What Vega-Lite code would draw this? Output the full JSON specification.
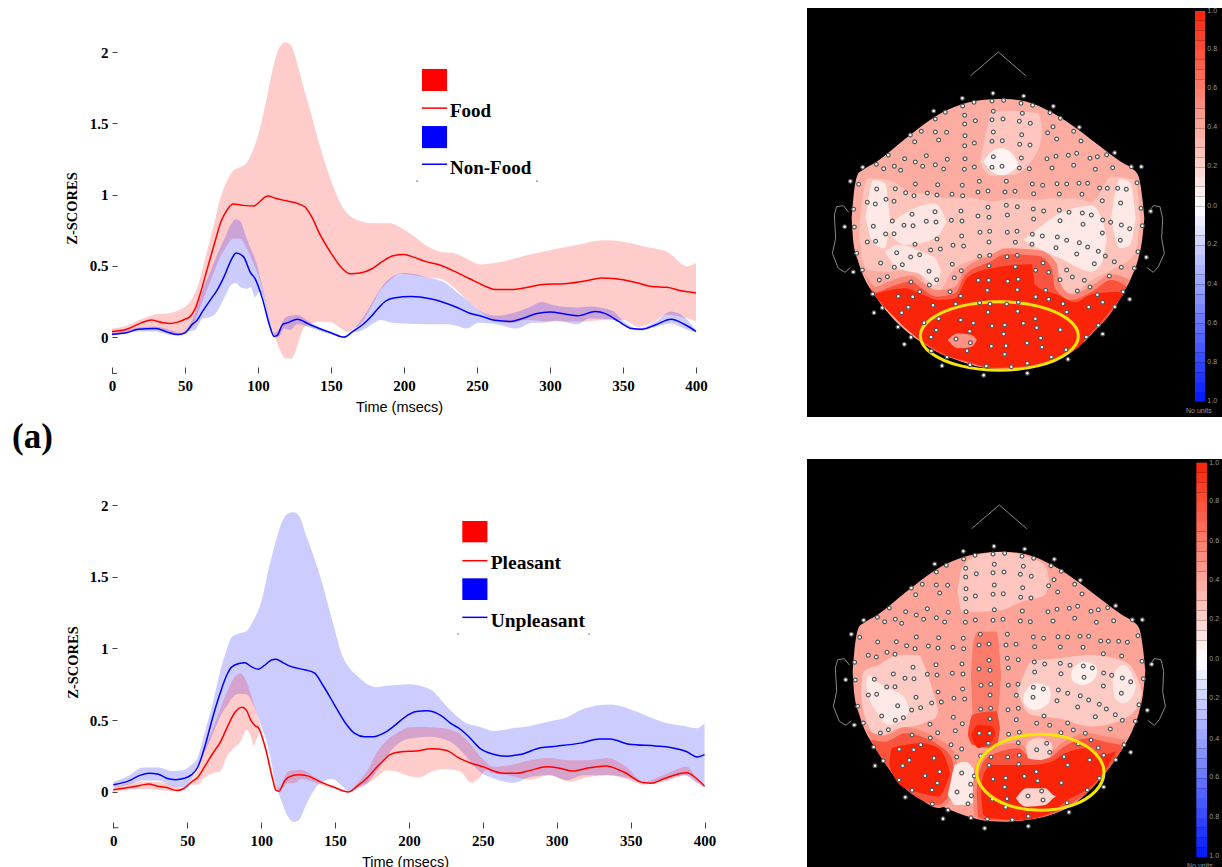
{"$schema":"https://vega.github.io/schema/vega-lite/v6.json","background":"white","padding":{"left":11,"top":7,"right":0,"bottom":0},"autosize":{"type":"pad"},"bounds":"flush","columns":2,"spacing":{"row":42,"column":102},"resolve":{"scale":{"color":"independent"}},
"config":{"view":{"stroke":null},"axis":{"grid":false,"domain":false,"tickColor":"#444","labelFlush":false,"labelFont":"Liberation Serif","labelFontWeight":"bold","labelFontSize":15,"labelColor":"#000"}},
"datasets":{
"el":[{"x":472,"y":280},{"x":564,"y":265},{"x":656,"y":273},{"x":745,"y":304},{"x":386,"y":318},{"x":823,"y":367},{"x":316,"y":390},{"x":929,"y":443},{"x":173,"y":487},{"x":979,"y":485},{"x":1009,"y":485},{"x":136,"y":529},{"x":119,"y":665},{"x":145,"y":801},{"x":207,"y":923},{"x":298,"y":1018},{"x":411,"y":1082},{"x":536,"y":1111},{"x":667,"y":1105},{"x":789,"y":1063},{"x":893,"y":987},{"x":974,"y":883},{"x":1024,"y":757},{"x":1037,"y":619},{"x":473,"y":303},{"x":507,"y":292},{"x":561,"y":288},{"x":596,"y":286},{"x":648,"y":295},{"x":683,"y":301},{"x":421,"y":322},{"x":479,"y":331},{"x":565,"y":319},{"x":652,"y":325},{"x":735,"y":323},{"x":391,"y":342},{"x":766,"y":340},{"x":479,"y":357},{"x":511,"y":347},{"x":561,"y":344},{"x":594,"y":342},{"x":643,"y":349},{"x":676,"y":355},{"x":349,"y":379},{"x":391,"y":381},{"x":425,"y":382},{"x":480,"y":392},{"x":565,"y":381},{"x":650,"y":389},{"x":728,"y":383},{"x":744,"y":365},{"x":806,"y":379},{"x":329,"y":410},{"x":401,"y":405},{"x":479,"y":422},{"x":508,"y":414},{"x":561,"y":409},{"x":592,"y":407},{"x":644,"y":418},{"x":675,"y":420},{"x":755,"y":402},{"x":828,"y":408},{"x":250,"y":450},{"x":299,"y":461},{"x":331,"y":471},{"x":364,"y":452},{"x":391,"y":479},{"x":427,"y":463},{"x":480,"y":461},{"x":565,"y":455},{"x":649,"y":459},{"x":726,"y":461},{"x":753,"y":454},{"x":790,"y":451},{"x":815,"y":445},{"x":855,"y":460},{"x":877,"y":455},{"x":905,"y":449},{"x":214,"y":478},{"x":236,"y":491},{"x":268,"y":484},{"x":287,"y":496},{"x":353,"y":484},{"x":416,"y":492},{"x":478,"y":493},{"x":508,"y":486},{"x":561,"y":487},{"x":591,"y":484},{"x":643,"y":489},{"x":673,"y":491},{"x":741,"y":489},{"x":806,"y":481},{"x":871,"y":493},{"x":923,"y":488},{"x":161,"y":538},{"x":331,"y":537},{"x":398,"y":539},{"x":472,"y":541},{"x":523,"y":529},{"x":604,"y":529},{"x":682,"y":537},{"x":713,"y":541},{"x":756,"y":536},{"x":785,"y":537},{"x":822,"y":535},{"x":848,"y":535},{"x":884,"y":549},{"x":907,"y":550},{"x":938,"y":550},{"x":964,"y":553},{"x":996,"y":533},{"x":215,"y":552},{"x":271,"y":551},{"x":302,"y":563},{"x":327,"y":572},{"x":367,"y":564},{"x":396,"y":570},{"x":441,"y":568},{"x":473,"y":572},{"x":519,"y":561},{"x":549,"y":558},{"x":600,"y":561},{"x":630,"y":559},{"x":686,"y":566},{"x":763,"y":567},{"x":831,"y":568},{"x":187,"y":592},{"x":211,"y":597},{"x":243,"y":583},{"x":267,"y":589},{"x":468,"y":618},{"x":549,"y":607},{"x":604,"y":601},{"x":637,"y":605},{"x":892,"y":587},{"x":947,"y":594},{"x":1008,"y":610},{"x":146,"y":613},{"x":321,"y":628},{"x":390,"y":620},{"x":519,"y":633},{"x":552,"y":637},{"x":607,"y":630},{"x":685,"y":612},{"x":716,"y":618},{"x":763,"y":616},{"x":792,"y":622},{"x":832,"y":624},{"x":859,"y":630},{"x":262,"y":648},{"x":297,"y":661},{"x":324,"y":662},{"x":364,"y":649},{"x":393,"y":651},{"x":439,"y":646},{"x":471,"y":648},{"x":686,"y":642},{"x":765,"y":647},{"x":893,"y":645},{"x":917,"y":652},{"x":834,"y":658},{"x":949,"y":660},{"x":974,"y":671},{"x":1012,"y":662},{"x":148,"y":666},{"x":205,"y":664},{"x":242,"y":687},{"x":267,"y":686},{"x":396,"y":702},{"x":470,"y":693},{"x":525,"y":682},{"x":554,"y":679},{"x":607,"y":682},{"x":636,"y":679},{"x":682,"y":688},{"x":712,"y":693},{"x":757,"y":696},{"x":892,"y":684},{"x":187,"y":711},{"x":212,"y":709},{"x":330,"y":718},{"x":444,"y":721},{"x":476,"y":723},{"x":552,"y":711},{"x":631,"y":712},{"x":681,"y":718},{"x":785,"y":706},{"x":823,"y":713},{"x":848,"y":726},{"x":753,"y":728},{"x":946,"y":706},{"x":155,"y":745},{"x":275,"y":743},{"x":317,"y":756},{"x":344,"y":749},{"x":377,"y":735},{"x":406,"y":732},{"x":524,"y":754},{"x":554,"y":751},{"x":606,"y":755},{"x":637,"y":751},{"x":815,"y":747},{"x":880,"y":739},{"x":901,"y":753},{"x":999,"y":740},{"x":227,"y":774},{"x":268,"y":787},{"x":292,"y":779},{"x":442,"y":778},{"x":469,"y":797},{"x":552,"y":782},{"x":631,"y":785},{"x":714,"y":774},{"x":692,"y":796},{"x":731,"y":802},{"x":785,"y":795},{"x":868,"y":776},{"x":928,"y":770},{"x":949,"y":787},{"x":988,"y":790},{"x":172,"y":795},{"x":372,"y":799},{"x":223,"y":825},{"x":247,"y":815},{"x":318,"y":831},{"x":395,"y":824},{"x":373,"y":840},{"x":448,"y":818},{"x":520,"y":826},{"x":551,"y":826},{"x":608,"y":829},{"x":640,"y":823},{"x":765,"y":824},{"x":802,"y":816},{"x":838,"y":826},{"x":913,"y":813},{"x":203,"y":867},{"x":280,"y":874},{"x":323,"y":875},{"x":344,"y":860},{"x":435,"y":860},{"x":467,"y":873},{"x":547,"y":856},{"x":637,"y":854},{"x":722,"y":856},{"x":692,"y":875},{"x":731,"y":883},{"x":817,"y":858},{"x":855,"y":846},{"x":877,"y":869},{"x":954,"y":860},{"x":232,"y":908},{"x":310,"y":907},{"x":290,"y":923},{"x":384,"y":901},{"x":452,"y":897},{"x":524,"y":893},{"x":555,"y":897},{"x":605,"y":897},{"x":640,"y":892},{"x":774,"y":896},{"x":785,"y":921},{"x":851,"y":906},{"x":893,"y":892},{"x":929,"y":905},{"x":401,"y":941},{"x":357,"y":953},{"x":467,"y":945},{"x":505,"y":954},{"x":549,"y":922},{"x":638,"y":919},{"x":691,"y":941},{"x":655,"y":955},{"x":561,"y":963},{"x":599,"y":960},{"x":880,"y":961},{"x":279,"y":966},{"x":394,"y":975},{"x":494,"y":979},{"x":695,"y":968},{"x":766,"y":974},{"x":596,"y":987},{"x":378,"y":996},{"x":318,"y":997},{"x":453,"y":1002},{"x":707,"y":999},{"x":844,"y":996},{"x":496,"y":1013},{"x":486,"y":1037},{"x":559,"y":1024},{"x":603,"y":1022},{"x":666,"y":1014},{"x":711,"y":1026},{"x":783,"y":1034},{"x":379,"y":1038},{"x":599,"y":1048},{"x":739,"y":1056},{"x":426,"y":1056},{"x":495,"y":1079},{"x":544,"y":1083},{"x":619,"y":1085},{"x":667,"y":1075}],
"outline":[{"k":"chin","o":0,"x":497,"y":212},{"k":"chin","o":1,"x":580,"y":141},{"k":"chin","o":2,"x":662,"y":212},{"k":"earL","o":0,"x":131,"y":622},{"k":"earL","o":1,"x":115,"y":602},{"k":"earL","o":2,"x":95,"y":605},{"k":"earL","o":3,"x":88,"y":630},{"k":"earL","o":4,"x":92,"y":700},{"k":"earL","o":5,"x":82,"y":745},{"k":"earL","o":6,"x":100,"y":790},{"k":"earL","o":7,"x":120,"y":802},{"k":"earL","o":8,"x":136,"y":788},{"k":"earR","o":0,"x":1030,"y":622},{"k":"earR","o":1,"x":1045,"y":602},{"k":"earR","o":2,"x":1065,"y":605},{"k":"earR","o":3,"x":1073,"y":640},{"k":"earR","o":4,"x":1070,"y":700},{"k":"earR","o":5,"x":1078,"y":745},{"k":"earR","o":6,"x":1060,"y":785},{"k":"earR","o":7,"x":1045,"y":802},{"k":"earR","o":8,"x":1025,"y":787}],
"regionsTop":[
{"r":"a","v":0.38,"x":140,"y":640,"y2":640},{"r":"a","v":0.38,"x":145,"y":580,"y2":710},{"r":"a","v":0.38,"x":160,"y":505,"y2":770},{"r":"a","v":0.38,"x":170,"y":497,"y2":800},{"r":"a","v":0.38,"x":215,"y":470,"y2":878},{"r":"a","v":0.38,"x":300,"y":402,"y2":975},{"r":"a","v":0.38,"x":390,"y":335,"y2":1035},{"r":"a","v":0.38,"x":470,"y":298,"y2":1070},{"r":"a","v":0.38,"x":560,"y":283,"y2":1090},{"r":"a","v":0.38,"x":600,"y":282,"y2":1091},{"r":"a","v":0.38,"x":640,"y":285,"y2":1088},{"r":"a","v":0.38,"x":680,"y":295,"y2":1083},{"r":"a","v":0.38,"x":720,"y":312,"y2":1075},{"r":"a","v":0.38,"x":770,"y":340,"y2":1057},{"r":"a","v":0.38,"x":800,"y":360,"y2":1040},{"r":"a","v":0.38,"x":880,"y":420,"y2":965},{"r":"a","v":0.38,"x":950,"y":472,"y2":870},{"r":"a","v":0.38,"x":980,"y":490,"y2":815},{"r":"a","v":0.38,"x":1000,"y":512,"y2":760},{"r":"a","v":0.38,"x":1012,"y":580,"y2":700},{"r":"a","v":0.38,"x":1018,"y":640,"y2":640},
{"r":"b","v":0.26,"x":525,"y":470,"y2":470},{"r":"b","v":0.26,"x":540,"y":400,"y2":500},{"r":"b","v":0.26,"x":560,"y":322,"y2":512},{"r":"b","v":0.26,"x":620,"y":318,"y2":510},{"r":"b","v":0.26,"x":700,"y":325,"y2":435},{"r":"b","v":0.26,"x":712,"y":380,"y2":380},
{"r":"c","v":0.27,"x":162,"y":680,"y2":680},{"r":"c","v":0.27,"x":175,"y":560,"y2":775},{"r":"c","v":0.27,"x":190,"y":520,"y2":795},{"r":"c","v":0.27,"x":250,"y":525,"y2":800},{"r":"c","v":0.27,"x":330,"y":565,"y2":790},{"r":"c","v":0.27,"x":370,"y":565,"y2":850},{"r":"c","v":0.27,"x":400,"y":575,"y2":860},{"r":"c","v":0.27,"x":440,"y":580,"y2":800},{"r":"c","v":0.27,"x":500,"y":580,"y2":765},{"r":"c","v":0.27,"x":560,"y":590,"y2":745},{"r":"c","v":0.27,"x":620,"y":580,"y2":735},{"r":"c","v":0.27,"x":700,"y":585,"y2":750},{"r":"c","v":0.27,"x":740,"y":580,"y2":820},{"r":"c","v":0.27,"x":800,"y":580,"y2":865},{"r":"c","v":0.27,"x":860,"y":590,"y2":825},{"r":"c","v":0.27,"x":920,"y":515,"y2":795},{"r":"c","v":0.27,"x":990,"y":525,"y2":745},{"r":"c","v":0.27,"x":1006,"y":640,"y2":640},
{"r":"d","v":0.1,"x":182,"y":640,"y2":640},{"r":"d","v":0.1,"x":205,"y":525,"y2":715},{"r":"d","v":0.1,"x":240,"y":535,"y2":730},{"r":"d","v":0.1,"x":255,"y":640,"y2":640},
{"r":"e","v":0.12,"x":240,"y":670,"y2":670},{"r":"e","v":0.12,"x":300,"y":625,"y2":720},{"r":"e","v":0.12,"x":390,"y":595,"y2":700},{"r":"e","v":0.12,"x":425,"y":650,"y2":650},
{"r":"f","v":0.12,"x":240,"y":740,"y2":740},{"r":"f","v":0.12,"x":280,"y":720,"y2":790},{"r":"f","v":0.12,"x":350,"y":740,"y2":810},{"r":"f","v":0.12,"x":390,"y":760,"y2":840},{"r":"f","v":0.12,"x":408,"y":800,"y2":800},
{"r":"g","v":0.1,"x":655,"y":705,"y2":705},{"r":"g","v":0.1,"x":710,"y":662,"y2":735},{"r":"g","v":0.1,"x":770,"y":622,"y2":762},{"r":"g","v":0.1,"x":860,"y":602,"y2":800},{"r":"g","v":0.1,"x":890,"y":640,"y2":775},{"r":"g","v":0.1,"x":905,"y":700,"y2":700},
{"r":"h","v":0.1,"x":918,"y":640,"y2":640},{"r":"h","v":0.1,"x":945,"y":522,"y2":730},{"r":"h","v":0.1,"x":975,"y":532,"y2":720},{"r":"h","v":0.1,"x":992,"y":640,"y2":640},
{"r":"i","v":0.05,"x":535,"y":470,"y2":470},{"r":"i","v":0.05,"x":560,"y":440,"y2":500},{"r":"i","v":0.05,"x":590,"y":430,"y2":510},{"r":"i","v":0.05,"x":620,"y":445,"y2":500},{"r":"i","v":0.05,"x":642,"y":480,"y2":480},
{"r":"i2","v":0.55,"x":175,"y":800,"y2":800},{"r":"i2","v":0.55,"x":215,"y":845,"y2":878},{"r":"i2","v":0.55,"x":245,"y":832,"y2":910},{"r":"i2","v":0.55,"x":320,"y":812,"y2":985},{"r":"i2","v":0.55,"x":350,"y":830,"y2":1010},{"r":"i2","v":0.55,"x":395,"y":855,"y2":1040},{"r":"i2","v":0.55,"x":450,"y":845,"y2":1062},{"r":"i2","v":0.55,"x":480,"y":790,"y2":1070},{"r":"i2","v":0.55,"x":560,"y":750,"y2":1090},{"r":"i2","v":0.55,"x":600,"y":730,"y2":1091},{"r":"i2","v":0.55,"x":700,"y":735,"y2":1083},{"r":"i2","v":0.55,"x":755,"y":775,"y2":1058},{"r":"i2","v":0.55,"x":765,"y":835,"y2":1052},{"r":"i2","v":0.55,"x":800,"y":868,"y2":1040},{"r":"i2","v":0.55,"x":860,"y":842,"y2":985},{"r":"i2","v":0.55,"x":920,"y":808,"y2":920},{"r":"i2","v":0.55,"x":975,"y":825,"y2":825},
{"r":"j","v":0.78,"x":185,"y":835,"y2":835},{"r":"j","v":0.78,"x":215,"y":862,"y2":878},{"r":"j","v":0.78,"x":245,"y":850,"y2":910},{"r":"j","v":0.78,"x":320,"y":830,"y2":985},{"r":"j","v":0.78,"x":350,"y":850,"y2":1010},{"r":"j","v":0.78,"x":395,"y":875,"y2":1040},{"r":"j","v":0.78,"x":450,"y":865,"y2":1062},{"r":"j","v":0.78,"x":480,"y":810,"y2":1070},{"r":"j","v":0.78,"x":560,"y":768,"y2":1090},{"r":"j","v":0.78,"x":600,"y":748,"y2":1091},{"r":"j","v":0.78,"x":700,"y":752,"y2":1083},{"r":"j","v":0.78,"x":740,"y":790,"y2":1065},{"r":"j","v":0.78,"x":750,"y":850,"y2":1058},{"r":"j","v":0.78,"x":800,"y":885,"y2":1040},{"r":"j","v":0.78,"x":860,"y":860,"y2":985},{"r":"j","v":0.78,"x":920,"y":825,"y2":920},{"r":"j","v":0.78,"x":965,"y":845,"y2":845},
{"r":"k","v":1,"x":205,"y":868,"y2":868},{"r":"k","v":1,"x":300,"y":850,"y2":968},{"r":"k","v":1,"x":350,"y":868,"y2":1008},{"r":"k","v":1,"x":400,"y":885,"y2":1038},{"r":"k","v":1,"x":450,"y":880,"y2":1060},{"r":"k","v":1,"x":490,"y":815,"y2":1070},{"r":"k","v":1,"x":560,"y":790,"y2":1088},{"r":"k","v":1,"x":680,"y":778,"y2":1082},{"r":"k","v":1,"x":690,"y":840,"y2":1080},{"r":"k","v":1,"x":760,"y":870,"y2":1058},{"r":"k","v":1,"x":810,"y":892,"y2":1035},{"r":"k","v":1,"x":860,"y":868,"y2":982},{"r":"k","v":1,"x":940,"y":860,"y2":888},{"r":"k","v":1,"x":955,"y":870,"y2":870},
{"r":"l","v":0.5,"x":428,"y":1005,"y2":1005},{"r":"l","v":0.5,"x":460,"y":985,"y2":1030},{"r":"l","v":0.5,"x":500,"y":990,"y2":1025},{"r":"l","v":0.5,"x":516,"y":1005,"y2":1005}],
"regionsBottom":[
{"r":"a","v":0.42,"x":140,"y":640,"y2":640},{"r":"a","v":0.42,"x":145,"y":580,"y2":710},{"r":"a","v":0.42,"x":160,"y":505,"y2":770},{"r":"a","v":0.42,"x":170,"y":497,"y2":800},{"r":"a","v":0.42,"x":215,"y":470,"y2":878},{"r":"a","v":0.42,"x":300,"y":402,"y2":975},{"r":"a","v":0.42,"x":390,"y":335,"y2":1035},{"r":"a","v":0.42,"x":470,"y":298,"y2":1070},{"r":"a","v":0.42,"x":560,"y":283,"y2":1090},{"r":"a","v":0.42,"x":600,"y":282,"y2":1091},{"r":"a","v":0.42,"x":640,"y":285,"y2":1088},{"r":"a","v":0.42,"x":680,"y":295,"y2":1083},{"r":"a","v":0.42,"x":720,"y":312,"y2":1075},{"r":"a","v":0.42,"x":770,"y":340,"y2":1057},{"r":"a","v":0.42,"x":800,"y":360,"y2":1040},{"r":"a","v":0.42,"x":880,"y":420,"y2":965},{"r":"a","v":0.42,"x":950,"y":472,"y2":870},{"r":"a","v":0.42,"x":980,"y":490,"y2":815},{"r":"a","v":0.42,"x":1000,"y":512,"y2":760},{"r":"a","v":0.42,"x":1012,"y":580,"y2":700},{"r":"a","v":0.42,"x":1018,"y":640,"y2":640},
{"r":"b","v":0.26,"x":455,"y":400,"y2":400},{"r":"b","v":0.26,"x":467,"y":331,"y2":461},{"r":"b","v":0.26,"x":517,"y":291,"y2":461},{"r":"b","v":0.26,"x":587,"y":281,"y2":456},{"r":"b","v":0.26,"x":647,"y":291,"y2":431},{"r":"b","v":0.26,"x":717,"y":321,"y2":411},{"r":"b","v":0.26,"x":730,"y":370,"y2":370},
{"r":"c","v":0.24,"x":165,"y":700,"y2":700},{"r":"c","v":0.24,"x":172,"y":641,"y2":761},{"r":"c","v":0.24,"x":217,"y":621,"y2":836},{"r":"c","v":0.24,"x":277,"y":591,"y2":811},{"r":"c","v":0.24,"x":337,"y":591,"y2":801},{"r":"c","v":0.24,"x":362,"y":641,"y2":791},{"r":"c","v":0.24,"x":387,"y":721,"y2":781},{"r":"c","v":0.24,"x":397,"y":760,"y2":760},
{"r":"d","v":0.1,"x":180,"y":680,"y2":680},{"r":"d","v":0.1,"x":187,"y":651,"y2":711},{"r":"d","v":0.1,"x":212,"y":671,"y2":761},{"r":"d","v":0.1,"x":247,"y":691,"y2":801},{"r":"d","v":0.1,"x":297,"y":721,"y2":781},{"r":"d","v":0.1,"x":310,"y":755,"y2":755},
{"r":"e","v":0.24,"x":635,"y":700,"y2":700},{"r":"e","v":0.24,"x":642,"y":681,"y2":721},{"r":"e","v":0.24,"x":677,"y":611,"y2":771},{"r":"e","v":0.24,"x":757,"y":601,"y2":781},{"r":"e","v":0.24,"x":857,"y":591,"y2":806},{"r":"e","v":0.24,"x":957,"y":611,"y2":781},{"r":"e","v":0.24,"x":1002,"y":681,"y2":731},{"r":"e","v":0.24,"x":1008,"y":705,"y2":705},
{"r":"f","v":0.07,"x":650,"y":720,"y2":720},{"r":"f","v":0.07,"x":657,"y":701,"y2":741},{"r":"f","v":0.07,"x":687,"y":676,"y2":756},{"r":"f","v":0.07,"x":727,"y":686,"y2":736},{"r":"f","v":0.07,"x":735,"y":710,"y2":710},
{"r":"g","v":0.07,"x":795,"y":650,"y2":650},{"r":"g","v":0.07,"x":802,"y":631,"y2":671},{"r":"g","v":0.07,"x":832,"y":611,"y2":681},{"r":"g","v":0.07,"x":867,"y":621,"y2":661},{"r":"g","v":0.07,"x":875,"y":640,"y2":640},
{"r":"h","v":0.1,"x":920,"y":680,"y2":680},{"r":"h","v":0.1,"x":927,"y":641,"y2":721},{"r":"h","v":0.1,"x":952,"y":621,"y2":736},{"r":"h","v":0.1,"x":982,"y":661,"y2":711},{"r":"h","v":0.1,"x":990,"y":685,"y2":685},
{"r":"i","v":0.6,"x":495,"y":650,"y2":650},{"r":"i","v":0.6,"x":502,"y":551,"y2":791},{"r":"i","v":0.6,"x":517,"y":521,"y2":811},{"r":"i","v":0.6,"x":572,"y":521,"y2":791},{"r":"i","v":0.6,"x":585,"y":650,"y2":650},
{"r":"j","v":0.85,"x":485,"y":830,"y2":830},{"r":"j","v":0.85,"x":500,"y":770,"y2":860},{"r":"j","v":0.85,"x":570,"y":760,"y2":870},{"r":"j","v":0.85,"x":582,"y":810,"y2":810},
{"r":"k","v":1,"x":495,"y":830,"y2":830},{"r":"k","v":1,"x":517,"y":800,"y2":870},{"r":"k","v":1,"x":557,"y":805,"y2":850},{"r":"k","v":1,"x":568,"y":825,"y2":825},
{"r":"k2","v":0.55,"x":180,"y":815,"y2":815},{"r":"k2","v":0.55,"x":237,"y":833,"y2":916},{"r":"k2","v":0.55,"x":297,"y":808,"y2":991},{"r":"k2","v":0.55,"x":347,"y":818,"y2":1026},{"r":"k2","v":0.55,"x":397,"y":843,"y2":1050},{"r":"k2","v":0.55,"x":445,"y":885,"y2":1010},{"r":"k2","v":0.55,"x":458,"y":945,"y2":945},
{"r":"l","v":0.78,"x":192,"y":846,"y2":846},{"r":"l","v":0.78,"x":237,"y":851,"y2":916},{"r":"l","v":0.78,"x":297,"y":826,"y2":991},{"r":"l","v":0.78,"x":347,"y":836,"y2":1026},{"r":"l","v":0.78,"x":397,"y":861,"y2":1041},{"r":"l","v":0.78,"x":437,"y":901,"y2":991},{"r":"l","v":0.78,"x":445,"y":945,"y2":945},
{"r":"m","v":1,"x":250,"y":920,"y2":920},{"r":"m","v":1,"x":257,"y":871,"y2":941},{"r":"m","v":1,"x":297,"y":861,"y2":991},{"r":"m","v":1,"x":347,"y":856,"y2":1006},{"r":"m","v":1,"x":397,"y":871,"y2":1016},{"r":"m","v":1,"x":422,"y":911,"y2":976},{"r":"m","v":1,"x":432,"y":945,"y2":945},
{"r":"n","v":0.1,"x":425,"y":1010,"y2":1010},{"r":"n","v":0.1,"x":432,"y":981,"y2":1021},{"r":"n","v":0.1,"x":447,"y":921,"y2":1041},{"r":"n","v":0.1,"x":477,"y":911,"y2":1041},{"r":"n","v":0.1,"x":507,"y":941,"y2":1031},{"r":"n","v":0.1,"x":520,"y":980,"y2":980},
{"r":"n2","v":0.55,"x":500,"y":1000,"y2":1000},{"r":"n2","v":0.55,"x":505,"y":935,"y2":1076},{"r":"n2","v":0.55,"x":537,"y":880,"y2":1086},{"r":"n2","v":0.55,"x":637,"y":855,"y2":1088},{"r":"n2","v":0.55,"x":677,"y":885,"y2":1083},{"r":"n2","v":0.55,"x":727,"y":885,"y2":1072},{"r":"n2","v":0.55,"x":767,"y":855,"y2":1055},{"r":"n2","v":0.55,"x":847,"y":825,"y2":1000},{"r":"n2","v":0.55,"x":897,"y":835,"y2":946},{"r":"n2","v":0.55,"x":957,"y":845,"y2":860},
{"r":"o","v":0.78,"x":512,"y":1000,"y2":1000},{"r":"o","v":0.78,"x":517,"y":951,"y2":1078},{"r":"o","v":0.78,"x":547,"y":896,"y2":1086},{"r":"o","v":0.78,"x":637,"y":871,"y2":1088},{"r":"o","v":0.78,"x":677,"y":901,"y2":1083},{"r":"o","v":0.78,"x":727,"y":901,"y2":1072},{"r":"o","v":0.78,"x":767,"y":871,"y2":1055},{"r":"o","v":0.78,"x":847,"y":841,"y2":1000},{"r":"o","v":0.78,"x":897,"y":851,"y2":946},{"r":"o","v":0.78,"x":947,"y":861,"y2":876},
{"r":"p","v":1,"x":525,"y":1000,"y2":1000},{"r":"p","v":1,"x":532,"y":951,"y2":1071},{"r":"p","v":1,"x":557,"y":921,"y2":1081},{"r":"p","v":1,"x":637,"y":921,"y2":1086},{"r":"p","v":1,"x":677,"y":921,"y2":1082},{"r":"p","v":1,"x":737,"y":911,"y2":1062},{"r":"p","v":1,"x":777,"y":886,"y2":1031},{"r":"p","v":1,"x":847,"y":871,"y2":991},{"r":"p","v":1,"x":887,"y":891,"y2":951},{"r":"p","v":1,"x":930,"y":880,"y2":880},
{"r":"q","v":0.2,"x":660,"y":870,"y2":870},{"r":"q","v":0.2,"x":667,"y":851,"y2":901},{"r":"q","v":0.2,"x":697,"y":841,"y2":906},{"r":"q","v":0.2,"x":732,"y":851,"y2":896},{"r":"q","v":0.2,"x":740,"y":870,"y2":870},
{"r":"s","v":0.2,"x":630,"y":1020,"y2":1020},{"r":"s","v":0.2,"x":637,"y":1011,"y2":1031},{"r":"s","v":0.2,"x":662,"y":991,"y2":1046},{"r":"s","v":0.2,"x":717,"y":991,"y2":1041},{"r":"s","v":0.2,"x":742,"y":1011,"y2":1021},{"r":"s","v":0.2,"x":750,"y":1015,"y2":1015}]
},
"concat":[
{"width":584,"height":359,"data":{"values":[]},
"encoding":{"x":{"field":"x","type":"quantitative","scale":{"domain":[0,400],"nice":false,"zero":false},"axis":{"values":[0,50,100,150,200,250,300,350,400],"format":"d","tickSize":6,"labelPadding":5,"title":"Time (msecs)","titleFont":"Liberation Sans","titleFontWeight":"normal","titleFontSize":14.5,"titleX":287,"titleY":33}},"y":{"field":"y","type":"quantitative","scale":{"domain":[-0.21,2.311],"nice":false,"zero":false},"axis":{"values":[0,0.5,1,1.5,2],"format":"~g","tickSize":-5,"labelPadding":9,"title":"Z-SCORES","titleFont":"Liberation Serif","titleFontWeight":"bold","titleFontSize":14.5,"titleX":-33,"titleY":200}}},
"layer":[
{"data":{"values":[{"s":"Food","x":0,"y":0.02,"y2":0.06},{"s":"Food","x":10,"y":0.03,"y2":0.08},{"s":"Food","x":20,"y":0.055,"y2":0.125},{"s":"Food","x":30,"y":0.06,"y2":0.16},{"s":"Food","x":40,"y":0.02,"y2":0.17},{"s":"Food","x":47,"y":0.015,"y2":0.195},{"s":"Food","x":52,"y":0.04,"y2":0.23},{"s":"Food","x":56,"y":0.09,"y2":0.29},{"s":"Food","x":60,"y":0.2,"y2":0.4},{"s":"Food","x":65,"y":0.33,"y2":0.6},{"s":"Food","x":70,"y":0.46,"y2":0.8},{"s":"Food","x":74,"y":0.56,"y2":0.97},{"s":"Food","x":78,"y":0.63,"y2":1.08},{"s":"Food","x":83,"y":0.69,"y2":1.17},{"s":"Food","x":88,"y":0.69,"y2":1.195},{"s":"Food","x":92,"y":0.63,"y2":1.22},{"s":"Food","x":96,"y":0.54,"y2":1.3},{"s":"Food","x":101,"y":0.41,"y2":1.45},{"s":"Food","x":106,"y":0.21,"y2":1.68},{"s":"Food","x":111,"y":0.02,"y2":1.92},{"s":"Food","x":115,"y":-0.09,"y2":2.04},{"s":"Food","x":119,"y":-0.15,"y2":2.07},{"s":"Food","x":123,"y":-0.15,"y2":2.04},{"s":"Food","x":128,"y":-0.03,"y2":1.88},{"s":"Food","x":131,"y":0.06,"y2":1.76},{"s":"Food","x":135,"y":0.09,"y2":1.62},{"s":"Food","x":143,"y":0.11,"y2":1.32},{"s":"Food","x":150,"y":0.105,"y2":1.1},{"s":"Food","x":157,"y":0.06,"y2":0.93},{"s":"Food","x":161,"y":0.035,"y2":0.87},{"s":"Food","x":165.5,"y":0.06,"y2":0.835},{"s":"Food","x":170,"y":0.09,"y2":0.815},{"s":"Food","x":177,"y":0.2,"y2":0.8},{"s":"Food","x":184,"y":0.33,"y2":0.8},{"s":"Food","x":190.6,"y":0.4,"y2":0.8},{"s":"Food","x":197.5,"y":0.445,"y2":0.77},{"s":"Food","x":206.6,"y":0.434,"y2":0.71},{"s":"Food","x":215.7,"y":0.42,"y2":0.64},{"s":"Food","x":225,"y":0.41,"y2":0.6},{"s":"Food","x":234,"y":0.35,"y2":0.59},{"s":"Food","x":243,"y":0.26,"y2":0.55},{"s":"Food","x":252.6,"y":0.176,"y2":0.51},{"s":"Food","x":262,"y":0.118,"y2":0.52},{"s":"Food","x":273,"y":0.098,"y2":0.545},{"s":"Food","x":284,"y":0.12,"y2":0.575},{"s":"Food","x":300,"y":0.11,"y2":0.61},{"s":"Food","x":320,"y":0.11,"y2":0.65},{"s":"Food","x":336,"y":0.118,"y2":0.68},{"s":"Food","x":350,"y":0.12,"y2":0.67},{"s":"Food","x":361,"y":0.07,"y2":0.645},{"s":"Food","x":370,"y":0.1,"y2":0.625},{"s":"Food","x":380,"y":0.157,"y2":0.6},{"s":"Food","x":394,"y":0.13,"y2":0.497},{"s":"Food","x":400,"y":0.11,"y2":0.52},
{"s":"Non-Food","x":0,"y":0.01,"y2":0.03},{"s":"Non-Food","x":20,"y":0.04,"y2":0.07},{"s":"Non-Food","x":30,"y":0.04,"y2":0.075},{"s":"Non-Food","x":40,"y":0.015,"y2":0.05},{"s":"Non-Food","x":47,"y":0.01,"y2":0.03},{"s":"Non-Food","x":52,"y":0.04,"y2":0.07},{"s":"Non-Food","x":57,"y":0.05,"y2":0.17},{"s":"Non-Food","x":62,"y":0.13,"y2":0.33},{"s":"Non-Food","x":67,"y":0.14,"y2":0.45},{"s":"Non-Food","x":72,"y":0.18,"y2":0.58},{"s":"Non-Food","x":77,"y":0.28,"y2":0.69},{"s":"Non-Food","x":82,"y":0.37,"y2":0.8},{"s":"Non-Food","x":85,"y":0.38,"y2":0.825},{"s":"Non-Food","x":88,"y":0.35,"y2":0.81},{"s":"Non-Food","x":92,"y":0.34,"y2":0.7},{"s":"Non-Food","x":95,"y":0.35,"y2":0.62},{"s":"Non-Food","x":98,"y":0.28,"y2":0.55},{"s":"Non-Food","x":101,"y":0.32,"y2":0.44},{"s":"Non-Food","x":104,"y":0.26,"y2":0.31},{"s":"Non-Food","x":108,"y":0.07,"y2":0.13},{"s":"Non-Food","x":111,"y":0,"y2":0.03},{"s":"Non-Food","x":114,"y":0,"y2":0.05},{"s":"Non-Food","x":118,"y":0.06,"y2":0.13},{"s":"Non-Food","x":122,"y":0.05,"y2":0.15},{"s":"Non-Food","x":127,"y":0.09,"y2":0.155},{"s":"Non-Food","x":135,"y":0.07,"y2":0.11},{"s":"Non-Food","x":143,"y":0.04,"y2":0.065},{"s":"Non-Food","x":150,"y":0.02,"y2":0.03},{"s":"Non-Food","x":159,"y":-0.005,"y2":0},{"s":"Non-Food","x":165,"y":0.03,"y2":0.05},{"s":"Non-Food","x":172,"y":0.05,"y2":0.14},{"s":"Non-Food","x":178,"y":0.09,"y2":0.24},{"s":"Non-Food","x":184,"y":0.12,"y2":0.34},{"s":"Non-Food","x":190,"y":0.105,"y2":0.41},{"s":"Non-Food","x":200,"y":0.095,"y2":0.45},{"s":"Non-Food","x":216,"y":0.09,"y2":0.42},{"s":"Non-Food","x":229,"y":0.09,"y2":0.376},{"s":"Non-Food","x":236,"y":0.08,"y2":0.316},{"s":"Non-Food","x":243,"y":0.06,"y2":0.26},{"s":"Non-Food","x":251,"y":0.1,"y2":0.19},{"s":"Non-Food","x":263,"y":0.09,"y2":0.15},{"s":"Non-Food","x":277,"y":0.06,"y2":0.176},{"s":"Non-Food","x":288,"y":0.1,"y2":0.22},{"s":"Non-Food","x":294,"y":0.1,"y2":0.246},{"s":"Non-Food","x":304,"y":0.117,"y2":0.22},{"s":"Non-Food","x":319,"y":0.09,"y2":0.208},{"s":"Non-Food","x":327,"y":0.13,"y2":0.215},{"s":"Non-Food","x":342,"y":0.125,"y2":0.188},{"s":"Non-Food","x":351,"y":0.08,"y2":0.106},{"s":"Non-Food","x":360,"y":0.045,"y2":0.06},{"s":"Non-Food","x":372,"y":0.07,"y2":0.106},{"s":"Non-Food","x":383,"y":0.095,"y2":0.18},{"s":"Non-Food","x":392,"y":0.06,"y2":0.14},{"s":"Non-Food","x":400,"y":0.03,"y2":0.05}]},
"mark":{"type":"area","interpolate":"monotone","opacity":0.2},"encoding":{"y2":{"field":"y2"},"color":{"field":"s","type":"nominal","scale":{"domain":["Food","Non-Food"],"range":["#ff0000","#0000ff"]},"legend":null}}},
{"data":{"values":[{"s":"Food","x":0,"y":0.04},{"s":"Food","x":10,"y":0.055},{"s":"Food","x":20,"y":0.1},{"s":"Food","x":27,"y":0.12},{"s":"Food","x":35,"y":0.1},{"s":"Food","x":40,"y":0.095},{"s":"Food","x":45,"y":0.105},{"s":"Food","x":50,"y":0.125},{"s":"Food","x":53,"y":0.14},{"s":"Food","x":57,"y":0.2},{"s":"Food","x":60,"y":0.29},{"s":"Food","x":65,"y":0.47},{"s":"Food","x":70,"y":0.65},{"s":"Food","x":75,"y":0.82},{"s":"Food","x":78,"y":0.88},{"s":"Food","x":83,"y":0.935},{"s":"Food","x":90,"y":0.925},{"s":"Food","x":97,"y":0.92},{"s":"Food","x":100,"y":0.94},{"s":"Food","x":105,"y":0.985},{"s":"Food","x":107,"y":0.99},{"s":"Food","x":112,"y":0.975},{"s":"Food","x":118,"y":0.96},{"s":"Food","x":125,"y":0.945},{"s":"Food","x":132,"y":0.915},{"s":"Food","x":137,"y":0.84},{"s":"Food","x":142,"y":0.73},{"s":"Food","x":150,"y":0.59},{"s":"Food","x":157,"y":0.49},{"s":"Food","x":163,"y":0.445},{"s":"Food","x":170,"y":0.45},{"s":"Food","x":178,"y":0.48},{"s":"Food","x":185,"y":0.53},{"s":"Food","x":192,"y":0.57},{"s":"Food","x":200,"y":0.58},{"s":"Food","x":207,"y":0.56},{"s":"Food","x":215,"y":0.53},{"s":"Food","x":225,"y":0.505},{"s":"Food","x":235,"y":0.46},{"s":"Food","x":245,"y":0.41},{"s":"Food","x":255,"y":0.36},{"s":"Food","x":262,"y":0.335},{"s":"Food","x":275,"y":0.335},{"s":"Food","x":285,"y":0.35},{"s":"Food","x":295,"y":0.37},{"s":"Food","x":310,"y":0.375},{"s":"Food","x":325,"y":0.395},{"s":"Food","x":335,"y":0.415},{"s":"Food","x":345,"y":0.41},{"s":"Food","x":360,"y":0.38},{"s":"Food","x":370,"y":0.355},{"s":"Food","x":380,"y":0.35},{"s":"Food","x":390,"y":0.325},{"s":"Food","x":400,"y":0.31},
{"s":"Non-Food","x":0,"y":0.02},{"s":"Non-Food","x":10,"y":0.03},{"s":"Non-Food","x":18,"y":0.055},{"s":"Non-Food","x":30,"y":0.06},{"s":"Non-Food","x":38,"y":0.035},{"s":"Non-Food","x":45,"y":0.018},{"s":"Non-Food","x":50,"y":0.03},{"s":"Non-Food","x":55,"y":0.09},{"s":"Non-Food","x":58,"y":0.115},{"s":"Non-Food","x":62,"y":0.18},{"s":"Non-Food","x":68,"y":0.27},{"s":"Non-Food","x":72,"y":0.33},{"s":"Non-Food","x":77,"y":0.43},{"s":"Non-Food","x":82,"y":0.55},{"s":"Non-Food","x":85,"y":0.59},{"s":"Non-Food","x":90,"y":0.565},{"s":"Non-Food","x":95,"y":0.45},{"s":"Non-Food","x":98,"y":0.41},{"s":"Non-Food","x":103,"y":0.27},{"s":"Non-Food","x":108,"y":0.08},{"s":"Non-Food","x":111,"y":0.005},{"s":"Non-Food","x":113,"y":0.01},{"s":"Non-Food","x":117,"y":0.09},{"s":"Non-Food","x":120,"y":0.1},{"s":"Non-Food","x":127,"y":0.125},{"s":"Non-Food","x":135,"y":0.09},{"s":"Non-Food","x":142,"y":0.06},{"s":"Non-Food","x":150,"y":0.03},{"s":"Non-Food","x":159,"y":0},{"s":"Non-Food","x":165,"y":0.04},{"s":"Non-Food","x":172,"y":0.09},{"s":"Non-Food","x":178,"y":0.15},{"s":"Non-Food","x":183,"y":0.21},{"s":"Non-Food","x":187,"y":0.25},{"s":"Non-Food","x":193,"y":0.275},{"s":"Non-Food","x":205,"y":0.285},{"s":"Non-Food","x":218,"y":0.27},{"s":"Non-Food","x":236,"y":0.21},{"s":"Non-Food","x":245,"y":0.168},{"s":"Non-Food","x":252.6,"y":0.148},{"s":"Non-Food","x":262,"y":0.118},{"s":"Non-Food","x":273,"y":0.11},{"s":"Non-Food","x":281,"y":0.13},{"s":"Non-Food","x":291,"y":0.165},{"s":"Non-Food","x":300,"y":0.176},{"s":"Non-Food","x":311,"y":0.16},{"s":"Non-Food","x":319,"y":0.15},{"s":"Non-Food","x":331,"y":0.18},{"s":"Non-Food","x":338,"y":0.165},{"s":"Non-Food","x":347,"y":0.11},{"s":"Non-Food","x":356,"y":0.06},{"s":"Non-Food","x":363,"y":0.055},{"s":"Non-Food","x":372,"y":0.085},{"s":"Non-Food","x":383,"y":0.125},{"s":"Non-Food","x":392,"y":0.09},{"s":"Non-Food","x":400,"y":0.04}]},
"mark":{"type":"line","interpolate":"monotone","strokeWidth":1.5},"encoding":{"color":{"field":"s","type":"nominal","legend":null}}},
{"data":{"values":[{"s":"Food","x":212.3,"x2":229.5,"y":1.883,"y2":1.728},{"s":"Non-Food","x":212.3,"x2":229.5,"y":1.482,"y2":1.327}]},"mark":"rect","encoding":{"x2":{"field":"x2"},"y2":{"field":"y2"},"color":{"field":"s","type":"nominal","legend":null}}},
{"data":{"values":[{"s":"Food","x":212.3,"x2":229.5,"y":1.608},{"s":"Non-Food","x":212.3,"x2":229.5,"y":1.214}]},"mark":{"type":"rule","strokeWidth":1.5},"encoding":{"x2":{"field":"x2"},"color":{"field":"s","type":"nominal","legend":null}}},
{"data":{"values":[{"t":"Food","x":231.5,"y":1.587},{"t":"Non-Food","x":231.5,"y":1.186}]},"mark":{"type":"text","align":"left","baseline":"middle","font":"Liberation Serif","fontWeight":"bold","fontSize":19,"color":"#000"},"encoding":{"text":{"field":"t"}}},
{"data":{"values":[{"t":"(a)","x":-68.5,"y":-0.705}]},"mark":{"type":"text","align":"left","baseline":"middle","font":"Liberation Serif","fontWeight":"bold","fontSize":35,"color":"#000"},"encoding":{"text":{"field":"t"}}},
{"data":{"values":[{"x":208.9,"y":1.095},{"x":291.1,"y":1.095}]},"mark":{"type":"point","filled":true,"size":3,"color":"#888","opacity":1}},
{"data":{"values":[{"x":0,"x2":3.4,"y":-0.255}]},"mark":{"type":"rule","color":"#444","strokeWidth":1,"clip":false},"encoding":{"x2":{"field":"x2"}}}
]},
{"width":415,"height":409,"view":{"fill":"#000"},
"encoding":{"x":{"field":"x","type":"quantitative","scale":{"domain":[6,1251],"nice":false,"zero":false},"axis":null},"y":{"field":"y","type":"quantitative","scale":{"domain":[9,1236],"reverse":true,"nice":false,"zero":false},"axis":null}},
"layer":[
{"data":{"name":"regionsTop"},"mark":{"type":"area","interpolate":"monotone","clip":true},"encoding":{"detail":{"field":"r"},"y2":{"field":"y2"},"color":{"field":"v","type":"quantitative","scale":{"domain":[-1,0,1],"range":["#0018ff","#ffffff","#fa2408"],"interpolate":"rgb"},"legend":null}}},
{"data":{"name":"outline"},"mark":{"type":"line","color":"#888","strokeWidth":1},"encoding":{"detail":{"field":"k"},"order":{"field":"o"}}},
{"data":{"values":[{"o":0,"x":820,"y":993},{"o":1,"x":788,"y":1044},{"o":2,"x":701,"y":1082},{"o":3,"x":583,"y":1096},{"o":4,"x":465,"y":1082},{"o":5,"x":378,"y":1044},{"o":6,"x":346,"y":993},{"o":7,"x":378,"y":942},{"o":8,"x":465,"y":904},{"o":9,"x":583,"y":890},{"o":10,"x":701,"y":904},{"o":11,"x":788,"y":942}]},"mark":{"type":"line","interpolate":"cardinal-closed","color":"#f5e40a","strokeWidth":3},"encoding":{"order":{"field":"o"}}},
{"data":{"name":"el"},"mark":{"type":"point","filled":true,"fill":"#fff","stroke":"#555","strokeWidth":1.2,"size":14,"opacity":1}},
{"data":{"values":[{"v":0.975,"x":1170,"x2":1200,"y":18,"y2":47},{"v":0.925,"x":1170,"x2":1200,"y":47,"y2":77},{"v":0.875,"x":1170,"x2":1200,"y":77,"y2":106},{"v":0.825,"x":1170,"x2":1200,"y":106,"y2":135},{"v":0.775,"x":1170,"x2":1200,"y":135,"y2":164},{"v":0.725,"x":1170,"x2":1200,"y":164,"y2":194},{"v":0.675,"x":1170,"x2":1200,"y":194,"y2":223},{"v":0.625,"x":1170,"x2":1200,"y":223,"y2":252},{"v":0.575,"x":1170,"x2":1200,"y":252,"y2":282},{"v":0.525,"x":1170,"x2":1200,"y":282,"y2":311},{"v":0.475,"x":1170,"x2":1200,"y":311,"y2":340},{"v":0.425,"x":1170,"x2":1200,"y":340,"y2":370},{"v":0.375,"x":1170,"x2":1200,"y":370,"y2":399},{"v":0.325,"x":1170,"x2":1200,"y":399,"y2":428},{"v":0.275,"x":1170,"x2":1200,"y":428,"y2":457},{"v":0.225,"x":1170,"x2":1200,"y":457,"y2":487},{"v":0.175,"x":1170,"x2":1200,"y":487,"y2":516},{"v":0.125,"x":1170,"x2":1200,"y":516,"y2":545},{"v":0.075,"x":1170,"x2":1200,"y":545,"y2":575},{"v":0.025,"x":1170,"x2":1200,"y":575,"y2":604},{"v":-0.025,"x":1170,"x2":1200,"y":604,"y2":633},{"v":-0.075,"x":1170,"x2":1200,"y":633,"y2":663},{"v":-0.125,"x":1170,"x2":1200,"y":663,"y2":692},{"v":-0.175,"x":1170,"x2":1200,"y":692,"y2":721},{"v":-0.225,"x":1170,"x2":1200,"y":721,"y2":750},{"v":-0.275,"x":1170,"x2":1200,"y":750,"y2":780},{"v":-0.325,"x":1170,"x2":1200,"y":780,"y2":809},{"v":-0.375,"x":1170,"x2":1200,"y":809,"y2":838},{"v":-0.425,"x":1170,"x2":1200,"y":838,"y2":868},{"v":-0.475,"x":1170,"x2":1200,"y":868,"y2":897},{"v":-0.525,"x":1170,"x2":1200,"y":897,"y2":926},{"v":-0.575,"x":1170,"x2":1200,"y":926,"y2":956},{"v":-0.625,"x":1170,"x2":1200,"y":956,"y2":985},{"v":-0.675,"x":1170,"x2":1200,"y":985,"y2":1014},{"v":-0.725,"x":1170,"x2":1200,"y":1014,"y2":1043},{"v":-0.775,"x":1170,"x2":1200,"y":1043,"y2":1073},{"v":-0.825,"x":1170,"x2":1200,"y":1073,"y2":1102},{"v":-0.875,"x":1170,"x2":1200,"y":1102,"y2":1131},{"v":-0.925,"x":1170,"x2":1200,"y":1131,"y2":1161},{"v":-0.975,"x":1170,"x2":1200,"y":1161,"y2":1190}]},"mark":"rect","encoding":{"x2":{"field":"x2"},"y2":{"field":"y2"},"color":{"field":"v","type":"quantitative","legend":null}}},
{"data":{"values":[{"t":"1.0","x":1207,"y":18},{"t":"0.8","x":1207,"y":133},{"t":"0.6","x":1207,"y":250},{"t":"0.4","x":1207,"y":367},{"t":"0.2","x":1207,"y":484},{"t":"0.0","x":1207,"y":602},{"t":"0.2","x":1207,"y":718},{"t":"0.4","x":1207,"y":838},{"t":"0.6","x":1207,"y":953},{"t":"0.8","x":1207,"y":1072},{"t":"1.0","x":1207,"y":1188},{"t":"No units","x":1143,"y":1218}]},"mark":{"type":"text","align":"left","baseline":"middle","font":"Liberation Sans","fontSize":7,"color":"#999"},"encoding":{"text":{"field":"t"}}}
]},
{"width":593,"height":363,"data":{"values":[]},
"encoding":{"x":{"field":"x","type":"quantitative","scale":{"domain":[-0.9,400.3],"nice":false,"zero":false},"axis":{"values":[0,50,100,150,200,250,300,350,400],"format":"d","tickSize":6,"labelPadding":5,"title":"Time (msecs)","titleFont":"Liberation Sans","titleFontWeight":"normal","titleFontSize":14.5,"titleX":293,"titleY":33}},"y":{"field":"y","type":"quantitative","scale":{"domain":[-0.21,2.321],"nice":false,"zero":false},"axis":{"values":[0,0.5,1,1.5,2],"format":"~g","tickSize":-5,"labelPadding":9,"title":"Z-SCORES","titleFont":"Liberation Serif","titleFontWeight":"bold","titleFontSize":14.5,"titleX":-32,"titleY":203}}},
"layer":[
{"data":{"values":[{"s":"Unpleasant","x":0,"y":0.03,"y2":0.07},{"s":"Unpleasant","x":10,"y":0.05,"y2":0.11},{"s":"Unpleasant","x":20,"y":0.08,"y2":0.17},{"s":"Unpleasant","x":30,"y":0.08,"y2":0.17},{"s":"Unpleasant","x":40,"y":0.04,"y2":0.145},{"s":"Unpleasant","x":47,"y":0.03,"y2":0.15},{"s":"Unpleasant","x":52,"y":0.07,"y2":0.18},{"s":"Unpleasant","x":57,"y":0.17,"y2":0.24},{"s":"Unpleasant","x":62,"y":0.28,"y2":0.42},{"s":"Unpleasant","x":68,"y":0.42,"y2":0.65},{"s":"Unpleasant","x":73,"y":0.54,"y2":0.87},{"s":"Unpleasant","x":77,"y":0.6,"y2":1.0},{"s":"Unpleasant","x":80,"y":0.65,"y2":1.08},{"s":"Unpleasant","x":85,"y":0.685,"y2":1.105},{"s":"Unpleasant","x":90,"y":0.68,"y2":1.12},{"s":"Unpleasant","x":95,"y":0.6,"y2":1.2},{"s":"Unpleasant","x":100,"y":0.46,"y2":1.32},{"s":"Unpleasant","x":105,"y":0.3,"y2":1.55},{"s":"Unpleasant","x":110,"y":0.05,"y2":1.75},{"s":"Unpleasant","x":114,"y":-0.07,"y2":1.88},{"s":"Unpleasant","x":118,"y":-0.17,"y2":1.94},{"s":"Unpleasant","x":122,"y":-0.21,"y2":1.95},{"s":"Unpleasant","x":126,"y":-0.19,"y2":1.92},{"s":"Unpleasant","x":130,"y":-0.1,"y2":1.8},{"s":"Unpleasant","x":135,"y":0,"y2":1.66},{"s":"Unpleasant","x":140,"y":0.06,"y2":1.5},{"s":"Unpleasant","x":148,"y":0.09,"y2":1.2},{"s":"Unpleasant","x":155,"y":0.04,"y2":0.95},{"s":"Unpleasant","x":160,"y":0,"y2":0.86},{"s":"Unpleasant","x":165,"y":0.02,"y2":0.81},{"s":"Unpleasant","x":172,"y":0.06,"y2":0.75},{"s":"Unpleasant","x":178,"y":0.14,"y2":0.73},{"s":"Unpleasant","x":185,"y":0.25,"y2":0.74},{"s":"Unpleasant","x":192,"y":0.33,"y2":0.745},{"s":"Unpleasant","x":200,"y":0.37,"y2":0.75},{"s":"Unpleasant","x":214,"y":0.384,"y2":0.717},{"s":"Unpleasant","x":228,"y":0.349,"y2":0.57},{"s":"Unpleasant","x":239,"y":0.244,"y2":0.478},{"s":"Unpleasant","x":248,"y":0.14,"y2":0.454},{"s":"Unpleasant","x":257,"y":0.095,"y2":0.425},{"s":"Unpleasant","x":271,"y":0.063,"y2":0.445},{"s":"Unpleasant","x":282,"y":0.103,"y2":0.46},{"s":"Unpleasant","x":295,"y":0.116,"y2":0.49},{"s":"Unpleasant","x":307,"y":0.082,"y2":0.52},{"s":"Unpleasant","x":318,"y":0.116,"y2":0.58},{"s":"Unpleasant","x":336,"y":0.116,"y2":0.61},{"s":"Unpleasant","x":354,"y":0.082,"y2":0.56},{"s":"Unpleasant","x":363,"y":0.06,"y2":0.52},{"s":"Unpleasant","x":372,"y":0.082,"y2":0.486},{"s":"Unpleasant","x":386,"y":0.116,"y2":0.46},{"s":"Unpleasant","x":395,"y":0.06,"y2":0.444},{"s":"Unpleasant","x":400,"y":0.035,"y2":0.48},
{"s":"Pleasant","x":0,"y":0,"y2":0.03},{"s":"Pleasant","x":20,"y":0.02,"y2":0.07},{"s":"Pleasant","x":30,"y":0.015,"y2":0.07},{"s":"Pleasant","x":40,"y":0.005,"y2":0.045},{"s":"Pleasant","x":47,"y":0.01,"y2":0.025},{"s":"Pleasant","x":53,"y":0.05,"y2":0.08},{"s":"Pleasant","x":57,"y":0.05,"y2":0.15},{"s":"Pleasant","x":62,"y":0.1,"y2":0.3},{"s":"Pleasant","x":67,"y":0.13,"y2":0.43},{"s":"Pleasant","x":72,"y":0.14,"y2":0.57},{"s":"Pleasant","x":77,"y":0.25,"y2":0.7},{"s":"Pleasant","x":82,"y":0.31,"y2":0.8},{"s":"Pleasant","x":86,"y":0.35,"y2":0.825},{"s":"Pleasant","x":90,"y":0.43,"y2":0.77},{"s":"Pleasant","x":93,"y":0.39,"y2":0.68},{"s":"Pleasant","x":95,"y":0.32,"y2":0.62},{"s":"Pleasant","x":97,"y":0.37,"y2":0.55},{"s":"Pleasant","x":100,"y":0.43,"y2":0.44},{"s":"Pleasant","x":104,"y":0.26,"y2":0.29},{"s":"Pleasant","x":108,"y":0.07,"y2":0.12},{"s":"Pleasant","x":111,"y":0,"y2":0.03},{"s":"Pleasant","x":114,"y":0.02,"y2":0.05},{"s":"Pleasant","x":118,"y":0.06,"y2":0.14},{"s":"Pleasant","x":122,"y":0.06,"y2":0.15},{"s":"Pleasant","x":127,"y":0.09,"y2":0.155},{"s":"Pleasant","x":135,"y":0.07,"y2":0.11},{"s":"Pleasant","x":143,"y":0.04,"y2":0.065},{"s":"Pleasant","x":150,"y":0.02,"y2":0.03},{"s":"Pleasant","x":159,"y":-0.005,"y2":0},{"s":"Pleasant","x":165,"y":0.03,"y2":0.06},{"s":"Pleasant","x":172,"y":0.06,"y2":0.15},{"s":"Pleasant","x":178,"y":0.1,"y2":0.27},{"s":"Pleasant","x":185,"y":0.15,"y2":0.36},{"s":"Pleasant","x":192,"y":0.14,"y2":0.41},{"s":"Pleasant","x":200,"y":0.11,"y2":0.45},{"s":"Pleasant","x":207,"y":0.1,"y2":0.455},{"s":"Pleasant","x":215,"y":0.14,"y2":0.45},{"s":"Pleasant","x":225,"y":0.16,"y2":0.44},{"s":"Pleasant","x":235,"y":0.14,"y2":0.4},{"s":"Pleasant","x":242,"y":0.063,"y2":0.33},{"s":"Pleasant","x":248,"y":0.1,"y2":0.25},{"s":"Pleasant","x":252,"y":0.15,"y2":0.21},{"s":"Pleasant","x":257,"y":0.13,"y2":0.175},{"s":"Pleasant","x":268,"y":0.115,"y2":0.186},{"s":"Pleasant","x":282,"y":0.085,"y2":0.22},{"s":"Pleasant","x":295,"y":0.116,"y2":0.237},{"s":"Pleasant","x":309,"y":0.07,"y2":0.22},{"s":"Pleasant","x":320,"y":0.1,"y2":0.22},{"s":"Pleasant","x":334,"y":0.116,"y2":0.237},{"s":"Pleasant","x":347,"y":0.09,"y2":0.175},{"s":"Pleasant","x":359,"y":0.05,"y2":0.07},{"s":"Pleasant","x":372,"y":0.07,"y2":0.116},{"s":"Pleasant","x":388,"y":0.116,"y2":0.175},{"s":"Pleasant","x":395,"y":0.07,"y2":0.09},{"s":"Pleasant","x":400,"y":0.035,"y2":0.04}]},
"mark":{"type":"area","interpolate":"monotone","opacity":0.2},"encoding":{"y2":{"field":"y2"},"color":{"field":"s","type":"nominal","scale":{"domain":["Pleasant","Unpleasant"],"range":["#ff0000","#0000ff"]},"legend":null}}},
{"data":{"values":[{"s":"Unpleasant","x":0,"y":0.05},{"s":"Unpleasant","x":10,"y":0.075},{"s":"Unpleasant","x":18,"y":0.115},{"s":"Unpleasant","x":24,"y":0.13},{"s":"Unpleasant","x":30,"y":0.125},{"s":"Unpleasant","x":36,"y":0.095},{"s":"Unpleasant","x":42,"y":0.085},{"s":"Unpleasant","x":48,"y":0.095},{"s":"Unpleasant","x":53,"y":0.12},{"s":"Unpleasant","x":57,"y":0.17},{"s":"Unpleasant","x":62,"y":0.32},{"s":"Unpleasant","x":67,"y":0.51},{"s":"Unpleasant","x":72,"y":0.68},{"s":"Unpleasant","x":77,"y":0.82},{"s":"Unpleasant","x":80,"y":0.87},{"s":"Unpleasant","x":85,"y":0.895},{"s":"Unpleasant","x":89,"y":0.9},{"s":"Unpleasant","x":93,"y":0.875},{"s":"Unpleasant","x":98,"y":0.855},{"s":"Unpleasant","x":102,"y":0.88},{"s":"Unpleasant","x":107,"y":0.92},{"s":"Unpleasant","x":110,"y":0.925},{"s":"Unpleasant","x":115,"y":0.9},{"s":"Unpleasant","x":120,"y":0.875},{"s":"Unpleasant","x":130,"y":0.85},{"s":"Unpleasant","x":136,"y":0.83},{"s":"Unpleasant","x":142,"y":0.74},{"s":"Unpleasant","x":150,"y":0.6},{"s":"Unpleasant","x":157,"y":0.48},{"s":"Unpleasant","x":163,"y":0.41},{"s":"Unpleasant","x":170,"y":0.385},{"s":"Unpleasant","x":176,"y":0.385},{"s":"Unpleasant","x":183,"y":0.41},{"s":"Unpleasant","x":190,"y":0.46},{"s":"Unpleasant","x":197,"y":0.52},{"s":"Unpleasant","x":205,"y":0.56},{"s":"Unpleasant","x":212,"y":0.565},{"s":"Unpleasant","x":222,"y":0.53},{"s":"Unpleasant","x":228,"y":0.48},{"s":"Unpleasant","x":235,"y":0.435},{"s":"Unpleasant","x":240,"y":0.39},{"s":"Unpleasant","x":248,"y":0.304},{"s":"Unpleasant","x":257,"y":0.263},{"s":"Unpleasant","x":266,"y":0.249},{"s":"Unpleasant","x":275,"y":0.26},{"s":"Unpleasant","x":289,"y":0.307},{"s":"Unpleasant","x":300,"y":0.319},{"s":"Unpleasant","x":316,"y":0.34},{"s":"Unpleasant","x":329,"y":0.368},{"s":"Unpleasant","x":336,"y":0.368},{"s":"Unpleasant","x":349,"y":0.332},{"s":"Unpleasant","x":367,"y":0.32},{"s":"Unpleasant","x":377,"y":0.31},{"s":"Unpleasant","x":388,"y":0.28},{"s":"Unpleasant","x":395,"y":0.244},{"s":"Unpleasant","x":400,"y":0.26},
{"s":"Pleasant","x":0,"y":0.015},{"s":"Pleasant","x":10,"y":0.03},{"s":"Pleasant","x":18,"y":0.045},{"s":"Pleasant","x":24,"y":0.055},{"s":"Pleasant","x":30,"y":0.04},{"s":"Pleasant","x":36,"y":0.03},{"s":"Pleasant","x":43,"y":0.01},{"s":"Pleasant","x":47,"y":0.02},{"s":"Pleasant","x":53,"y":0.07},{"s":"Pleasant","x":57,"y":0.1},{"s":"Pleasant","x":62,"y":0.18},{"s":"Pleasant","x":68,"y":0.28},{"s":"Pleasant","x":72,"y":0.34},{"s":"Pleasant","x":77,"y":0.45},{"s":"Pleasant","x":82,"y":0.55},{"s":"Pleasant","x":87,"y":0.59},{"s":"Pleasant","x":90,"y":0.57},{"s":"Pleasant","x":93,"y":0.5},{"s":"Pleasant","x":96,"y":0.46},{"s":"Pleasant","x":98,"y":0.45},{"s":"Pleasant","x":103,"y":0.3},{"s":"Pleasant","x":108,"y":0.08},{"s":"Pleasant","x":110,"y":0.01},{"s":"Pleasant","x":112,"y":0.005},{"s":"Pleasant","x":116,"y":0.08},{"s":"Pleasant","x":119,"y":0.105},{"s":"Pleasant","x":125,"y":0.12},{"s":"Pleasant","x":132,"y":0.11},{"s":"Pleasant","x":140,"y":0.07},{"s":"Pleasant","x":150,"y":0.03},{"s":"Pleasant","x":159,"y":0},{"s":"Pleasant","x":165,"y":0.04},{"s":"Pleasant","x":172,"y":0.1},{"s":"Pleasant","x":178,"y":0.17},{"s":"Pleasant","x":183,"y":0.22},{"s":"Pleasant","x":187,"y":0.26},{"s":"Pleasant","x":195,"y":0.28},{"s":"Pleasant","x":205,"y":0.285},{"s":"Pleasant","x":215,"y":0.3},{"s":"Pleasant","x":225,"y":0.29},{"s":"Pleasant","x":234,"y":0.235},{"s":"Pleasant","x":242,"y":0.2},{"s":"Pleasant","x":250,"y":0.175},{"s":"Pleasant","x":264,"y":0.13},{"s":"Pleasant","x":273,"y":0.13},{"s":"Pleasant","x":282,"y":0.15},{"s":"Pleasant","x":293,"y":0.175},{"s":"Pleasant","x":302,"y":0.165},{"s":"Pleasant","x":311,"y":0.145},{"s":"Pleasant","x":322,"y":0.168},{"s":"Pleasant","x":333,"y":0.18},{"s":"Pleasant","x":345,"y":0.14},{"s":"Pleasant","x":359,"y":0.063},{"s":"Pleasant","x":364,"y":0.06},{"s":"Pleasant","x":372,"y":0.09},{"s":"Pleasant","x":388,"y":0.133},{"s":"Pleasant","x":395,"y":0.09},{"s":"Pleasant","x":400,"y":0.04}]},
"mark":{"type":"line","interpolate":"monotone","strokeWidth":1.5},"encoding":{"color":{"field":"s","type":"nominal","legend":null}}},
{"data":{"values":[{"s":"Pleasant","x":236.1,"x2":253.1,"y":1.889,"y2":1.74},{"s":"Unpleasant","x":236.1,"x2":253.1,"y":1.489,"y2":1.338}]},"mark":"rect","encoding":{"x2":{"field":"x2"},"y2":{"field":"y2"},"color":{"field":"s","type":"nominal","legend":null}}},
{"data":{"values":[{"s":"Pleasant","x":236.1,"x2":253.1,"y":1.612},{"s":"Unpleasant","x":236.1,"x2":253.1,"y":1.217}]},"mark":{"type":"rule","strokeWidth":1.5},"encoding":{"x2":{"field":"x2"},"color":{"field":"s","type":"nominal","legend":null}}},
{"data":{"values":[{"t":"Pleasant","x":255.3,"y":1.596},{"t":"Unpleasant","x":255.3,"y":1.193}]},"mark":{"type":"text","align":"left","baseline":"middle","font":"Liberation Serif","fontWeight":"bold","fontSize":19.5,"color":"#000"},"encoding":{"text":{"field":"t"}}},
{"data":{"values":[{"x":233.2,"y":1.1},{"x":321.9,"y":1.1}]},"mark":{"type":"point","filled":true,"size":3,"color":"#888","opacity":1}},
{"data":{"values":[{"x":0,"x2":3.4,"y":-0.25}]},"mark":{"type":"rule","color":"#444","strokeWidth":1,"clip":false},"encoding":{"x2":{"field":"x2"}}}
]},
{"width":415,"height":408,"view":{"fill":"#000"},
"encoding":{"x":{"field":"x","type":"quantitative","scale":{"domain":[3,1248],"nice":false,"zero":false},"axis":null},"y":{"field":"y","type":"quantitative","scale":{"domain":[3,1227],"reverse":true,"nice":false,"zero":false},"axis":null}},
"layer":[
{"data":{"name":"regionsBottom"},"mark":{"type":"area","interpolate":"monotone","clip":true},"encoding":{"detail":{"field":"r"},"y2":{"field":"y2"},"color":{"field":"v","type":"quantitative","scale":{"domain":[-1,0,1],"range":["#0018ff","#ffffff","#fa2408"],"interpolate":"rgb"},"legend":null}}},
{"data":{"name":"outline"},"mark":{"type":"line","color":"#888","strokeWidth":1},"encoding":{"detail":{"field":"k"},"order":{"field":"o"}}},
{"data":{"name":"el"},"mark":{"type":"point","filled":true,"fill":"#fff","stroke":"#555","strokeWidth":1.2,"size":14,"opacity":1}},
{"data":{"values":[{"o":0,"x":894,"y":943},{"o":1,"x":868,"y":1000},{"o":2,"x":798,"y":1042},{"o":3,"x":703,"y":1057},{"o":4,"x":608,"y":1042},{"o":5,"x":538,"y":1000},{"o":6,"x":512,"y":943},{"o":7,"x":538,"y":886},{"o":8,"x":608,"y":844},{"o":9,"x":703,"y":829},{"o":10,"x":798,"y":844},{"o":11,"x":868,"y":886}]},"mark":{"type":"line","interpolate":"cardinal-closed","color":"#f5e40a","strokeWidth":3},"encoding":{"order":{"field":"o"}}},
{"data":{"values":[{"v":0.975,"x":1171,"x2":1203,"y":14,"y2":44},{"v":0.925,"x":1171,"x2":1203,"y":44,"y2":73},{"v":0.875,"x":1171,"x2":1203,"y":73,"y2":103},{"v":0.825,"x":1171,"x2":1203,"y":103,"y2":132},{"v":0.775,"x":1171,"x2":1203,"y":132,"y2":162},{"v":0.725,"x":1171,"x2":1203,"y":162,"y2":192},{"v":0.675,"x":1171,"x2":1203,"y":192,"y2":221},{"v":0.625,"x":1171,"x2":1203,"y":221,"y2":251},{"v":0.575,"x":1171,"x2":1203,"y":251,"y2":280},{"v":0.525,"x":1171,"x2":1203,"y":280,"y2":310},{"v":0.475,"x":1171,"x2":1203,"y":310,"y2":340},{"v":0.425,"x":1171,"x2":1203,"y":340,"y2":369},{"v":0.375,"x":1171,"x2":1203,"y":369,"y2":399},{"v":0.325,"x":1171,"x2":1203,"y":399,"y2":428},{"v":0.275,"x":1171,"x2":1203,"y":428,"y2":458},{"v":0.225,"x":1171,"x2":1203,"y":458,"y2":488},{"v":0.175,"x":1171,"x2":1203,"y":488,"y2":517},{"v":0.125,"x":1171,"x2":1203,"y":517,"y2":547},{"v":0.075,"x":1171,"x2":1203,"y":547,"y2":576},{"v":0.025,"x":1171,"x2":1203,"y":576,"y2":606},{"v":-0.025,"x":1171,"x2":1203,"y":606,"y2":636},{"v":-0.075,"x":1171,"x2":1203,"y":636,"y2":665},{"v":-0.125,"x":1171,"x2":1203,"y":665,"y2":695},{"v":-0.175,"x":1171,"x2":1203,"y":695,"y2":724},{"v":-0.225,"x":1171,"x2":1203,"y":724,"y2":754},{"v":-0.275,"x":1171,"x2":1203,"y":754,"y2":784},{"v":-0.325,"x":1171,"x2":1203,"y":784,"y2":813},{"v":-0.375,"x":1171,"x2":1203,"y":813,"y2":843},{"v":-0.425,"x":1171,"x2":1203,"y":843,"y2":872},{"v":-0.475,"x":1171,"x2":1203,"y":872,"y2":902},{"v":-0.525,"x":1171,"x2":1203,"y":902,"y2":932},{"v":-0.575,"x":1171,"x2":1203,"y":932,"y2":961},{"v":-0.625,"x":1171,"x2":1203,"y":961,"y2":991},{"v":-0.675,"x":1171,"x2":1203,"y":991,"y2":1020},{"v":-0.725,"x":1171,"x2":1203,"y":1020,"y2":1050},{"v":-0.775,"x":1171,"x2":1203,"y":1050,"y2":1080},{"v":-0.825,"x":1171,"x2":1203,"y":1080,"y2":1109},{"v":-0.875,"x":1171,"x2":1203,"y":1109,"y2":1139},{"v":-0.925,"x":1171,"x2":1203,"y":1139,"y2":1168},{"v":-0.975,"x":1171,"x2":1203,"y":1168,"y2":1198}]},"mark":"rect","encoding":{"x2":{"field":"x2"},"y2":{"field":"y2"},"color":{"field":"v","type":"quantitative","legend":null}}},
{"data":{"values":[{"t":"1.0","x":1210,"y":14},{"t":"0.8","x":1210,"y":129},{"t":"0.6","x":1210,"y":248},{"t":"0.4","x":1210,"y":365},{"t":"0.2","x":1210,"y":484},{"t":"0.0","x":1210,"y":603},{"t":"0.2","x":1210,"y":721},{"t":"0.4","x":1210,"y":842},{"t":"0.6","x":1210,"y":956},{"t":"0.8","x":1210,"y":1078},{"t":"1.0","x":1210,"y":1195},{"t":"No units","x":1143,"y":1223}]},"mark":{"type":"text","align":"left","baseline":"middle","font":"Liberation Sans","fontSize":7,"color":"#999"},"encoding":{"text":{"field":"t"}}}
]}
]}
